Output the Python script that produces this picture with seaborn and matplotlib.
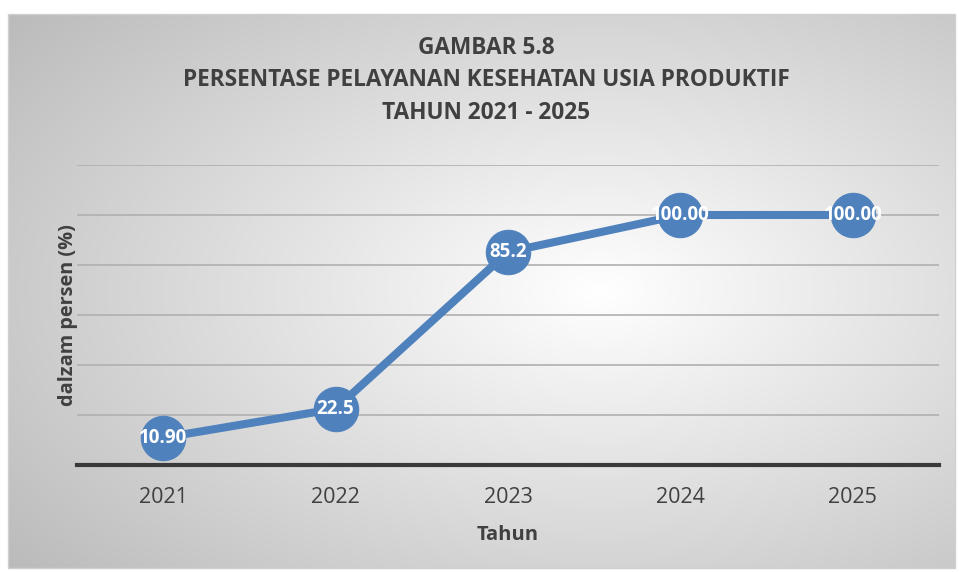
import numpy as np
import pandas as pd
import matplotlib.pyplot as plt
import seaborn as sns

years = ["2021", "2022", "2023", "2024", "2025"]
values = [10.90, 22.5, 85.2, 100.00, 100.00]
labels = ["10.90", "22.5", "85.2", "100.00", "100.00"]

df = pd.DataFrame({"Tahun": years, "Persen": values})

sns.set_theme(style="white")
plt.rcParams["font.family"] = ["Open Sans", "DejaVu Sans"]

fig = plt.figure(figsize=(9.59, 5.72), dpi=100)

# gradient background of the chart area (white centre, grey edges)
bg = fig.add_axes([0, 0, 1, 1], zorder=-5)
H, W = 572, 959
yy, xx = np.mgrid[0:H, 0:W]
r = np.sqrt(((xx - 600) / 560.0) ** 2 + ((yy - 290) / 320.0) ** 2)
shade = np.clip(255 - 50 * r, 185, 255) / 255.0
img = np.dstack([shade, shade, shade])
img[:14, :] = 1
img[568:, :] = 1
img[:, :8] = 1
img[:, 955:] = 1
bg.imshow(img, extent=[0, W, H, 0], aspect="auto")
bg.plot([8, 955, 955, 8, 8], [14, 14, 568, 568, 14], color="#d0d0d0", lw=1)
bg.set_xlim(0, W)
bg.set_ylim(H, 0)
bg.axis("off")

ax = fig.add_axes([77 / 959, 1 - 465 / 572, 862 / 959, 300 / 572])
ax.patch.set_alpha(0)

sns.lineplot(data=df, x="Tahun", y="Persen", ax=ax, color="#4f81bd",
             linewidth=5.8, marker="o", markersize=32,
             markeredgecolor="#4f81bd", zorder=3)

for i, (v, t) in enumerate(zip(values, labels)):
    ax.text(i, v, t, ha="center", va="center", color="white",
            fontsize=13.5, fontweight="bold", zorder=5)

ax.set_xlim(-0.5, 4.5)
ax.set_ylim(0, 120)
ax.set_yticks([0, 20, 40, 60, 80, 100, 120])
ax.set_yticklabels([])
ax.tick_params(axis="y", length=0)
ax.tick_params(axis="x", length=0, labelsize=15.5, labelcolor="#404040", pad=16)
ax.grid(axis="y", color="#b0b0b0", linewidth=1.2)
for s in ["top", "right", "left"]:
    ax.spines[s].set_visible(False)
ax.spines["bottom"].set_color("#3a3a3a")
ax.spines["bottom"].set_linewidth(3)
ax.spines["bottom"].set_zorder(4)

ax.set_xlabel("Tahun", fontsize=14.5, fontweight="bold", color="#404040", labelpad=12)
ax.set_ylabel("dalzam persen (%)", fontsize=14.3, fontweight="bold", color="#404040", labelpad=-4)

tx = 486 / 959
fig.text(tx, 1 - 48 / 572, "GAMBAR 5.8", ha="center", va="center",
         fontsize=16.3, fontweight="bold", color="#404040")
fig.text(tx, 1 - 80 / 572, "PERSENTASE PELAYANAN KESEHATAN USIA PRODUKTIF", ha="center",
         va="center", fontsize=16.3, fontweight="bold", color="#404040")
fig.text(tx, 1 - 113 / 572, "TAHUN 2021 - 2025", ha="center", va="center",
         fontsize=16.3, fontweight="bold", color="#404040")

fig.savefig("out.png", dpi=100)
